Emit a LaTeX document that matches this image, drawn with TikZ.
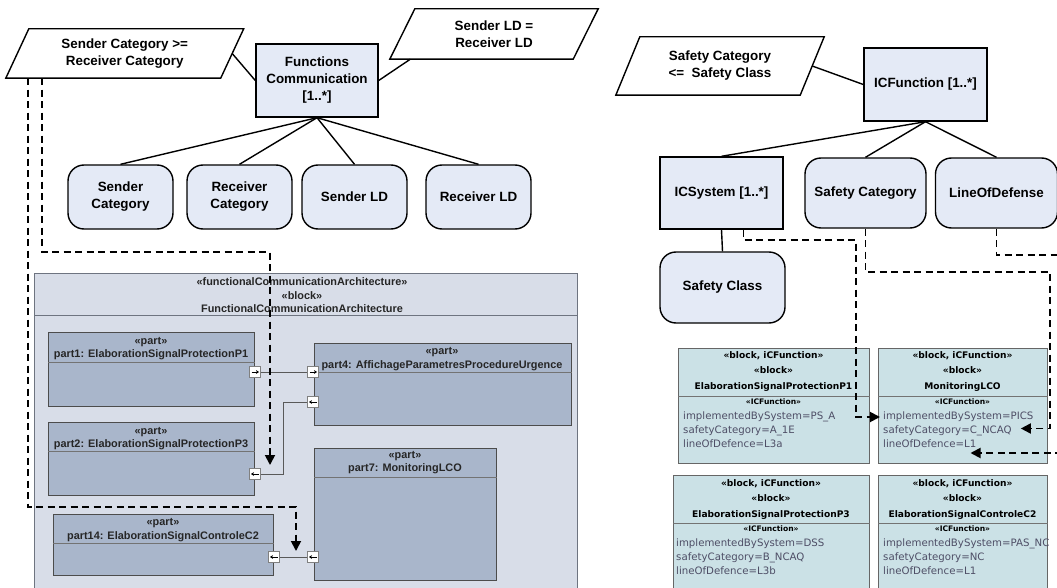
\documentclass[tikz,border=0pt]{standalone}
\usepackage{fontspec}
\setmainfont{Liberation Sans}
\newfontfamily\blkfont{DejaVu Sans}
\usetikzlibrary{arrows.meta,calc}
\definecolor{nodefill}{HTML}{E4EAF6}
\definecolor{contfill}{HTML}{D8DDE8}
\definecolor{partfill}{HTML}{A9B6CB}
\definecolor{blkfill}{HTML}{CBE1E6}
\definecolor{attrcol}{HTML}{4E4E66}
\definecolor{framecol}{HTML}{6E7480}
\newcommand\paraoutline[2]{\draw[paraline] ($(#1.south west)+(-#2,0)$) -- ($(#1.south east)+(-#2,0)$) -- ($(#1.north east)+(#2,0)$) -- ($(#1.north west)+(#2,0)$) -- cycle;}
\begin{document}
\begin{tikzpicture}[x=1pt,y=-1pt,
  topfont/.style={font=\fontsize{13.4}{17}\selectfont\bfseries},
  ent/.style={draw=black,line width=1.4pt,fill=nodefill,topfont,align=center,inner sep=0pt},
  boxn/.style={ent},
  roundn/.style={ent,rounded corners=16pt},
  parabody/.style={topfont,align=center,inner sep=0pt},
  paraline/.style={draw=black,line width=1.4pt,line join=miter},
  link/.style={line width=1.4pt},
  trace/.style={line width=1.8pt,dash pattern=on 7pt off 4.5pt,-{Triangle[length=10pt,width=10pt]}},
  tracefree/.style={line width=1.8pt,dash pattern=on 7pt off 4.5pt},
  cont/.style={draw=framecol,line width=0.8pt,fill=contfill,inner sep=0pt,anchor=north west},
  partn/.style={draw=black!70,line width=0.8pt,fill=partfill,inner sep=0pt,anchor=north west},
  parttxt/.style={font=\fontsize{10.9}{13.5}\selectfont\bfseries,align=center,inner sep=0pt,text=black!85},
  port/.style={draw=black!50,fill=white,line width=0.6pt,minimum size=11pt,inner sep=0pt},
  portlink/.style={draw=black!65,line width=0.9pt},
  glyph/.style={line width=0.8pt,-{Stealth[length=3pt,width=3.8pt]}},
  blk/.style={draw=black!60,line width=0.8pt,fill=blkfill,inner sep=0pt,anchor=north west},
  blkhead/.style={font=\blkfont\fontsize{9.1}{15.5}\selectfont\bfseries,align=center,inner sep=0pt},
  stereo/.style={font=\blkfont\fontsize{7.6}{9}\selectfont\bfseries,inner sep=0pt},
  attr/.style={font=\blkfont\fontsize{10.2}{13}\selectfont,text=attrcol,inner sep=0pt,anchor=west},
  sep/.style={draw=black!55,line width=0.7pt},
]
\useasboundingbox (0,0) rectangle (1057,588);
\clip (0,0) rectangle (1057,588);

% ---------------- left tree ----------------
\node[parabody,minimum width=214.5pt,minimum height=49pt] (scp) at (124.75,53.5) {Sender Category >=\\Receiver Category};
\paraoutline{scp}{11.5}
\node[parabody,minimum width=183pt,minimum height=50pt] (ldp) at (494,34) {Sender LD =\\Receiver LD};
\paraoutline{ldp}{12.5}
\node[boxn,minimum width=122pt,minimum height=73pt] (fc) at (317,80.5) {Functions\\Communication\\{}[1..*]};
\node[roundn,minimum width=105pt,minimum height=64pt] (sc) at (120.5,197) {Sender\\Category};
\node[roundn,minimum width=105pt,minimum height=64pt] (rc) at (239.5,197) {Receiver\\Category};
\node[roundn,minimum width=105pt,minimum height=64pt] (sld) at (354.5,197) {Sender LD};
\node[roundn,minimum width=105pt,minimum height=64pt] (rld) at (478.5,197) {Receiver LD};
\draw[link] (scp.east) -- (fc.west);
\draw[link] (fc.east) -- ($(ldp.south west)+(8,0)$);
\foreach \t in {sc,rc,sld,rld} \draw[link] (fc.south) -- (\t.north);

% ---------------- right tree ----------------
\node[parabody,minimum width=184pt,minimum height=58pt] (sfp) at (720,66) {Safety Category\\<=~~Safety Class};
\paraoutline{sfp}{12}
\node[boxn,minimum width=123pt,minimum height=73pt] (icf) at (925.5,84.5) {ICFunction [1..*]};
\node[boxn,minimum width=123pt,minimum height=72pt] (ics) at (721.5,193) {ICSystem [1..*]};
\node[roundn,minimum width=121pt,minimum height=70pt] (scat) at (865.5,193) {Safety Category};
\node[roundn,minimum width=122pt,minimum height=70pt] (lod) at (996.5,193) {LineOfDefense};
\node[roundn,minimum width=125pt,minimum height=71pt] (sfc) at (722.5,287.5) {Safety Class};
\draw[link] (sfp.east) -- (icf.west);
\foreach \t in {ics,scat,lod} \draw[link] (icf.south) -- (\t.north);
\draw[link] (ics.south) -- (sfc.north);

% ---------------- container ----------------
\node[cont,minimum width=543pt,minimum height=316pt] (cont) at (34,273) {};
\draw[sep,draw=framecol] ($(cont.north west)+(0,42)$) -- ($(cont.north east)+(0,42)$);
\node[font=\fontsize{10.9}{13.5}\selectfont\bfseries,align=center,inner sep=0pt,text=black!85] (conttxt) at (302,295.5)
  {«functionalCommunicationArchitecture»\\«block»\\FunctionalCommunicationArchitecture};

\node[partn,minimum width=206pt,minimum height=74pt] (p1) at (48,332) {};
\node[partn,minimum width=206pt,minimum height=73pt] (p2) at (48,422) {};
\node[partn,minimum width=220pt,minimum height=61pt] (p14) at (53,514) {};
\node[partn,minimum width=257pt,minimum height=82pt] (p4) at (314,343) {};
\node[partn,minimum width=182pt,minimum height=132pt] (p7) at (314,448) {};
\draw[sep] ($(p1.north west)+(0,30)$) -- ($(p1.north east)+(0,30)$);
\draw[sep] ($(p2.north west)+(0,29)$) -- ($(p2.north east)+(0,29)$);
\draw[sep] ($(p14.north west)+(0,29)$) -- ($(p14.north east)+(0,29)$);
\draw[sep] ($(p4.north west)+(0,29)$) -- ($(p4.north east)+(0,29)$);
\draw[sep] ($(p7.north west)+(0,29)$) -- ($(p7.north east)+(0,29)$);
\node[parttxt] (p1t) at (151,348.5) {«part»\\part1: ElaborationSignalProtectionP1};
\node[parttxt] (p2t) at (151,438.5) {«part»\\part2: ElaborationSignalProtectionP3};
\node[parttxt] (p14t) at (163,530) {«part»\\part14: ElaborationSignalControleC2};
\node[parttxt] (p4t) at (442,359) {«part»\\part4: AffichageParametresProcedureUrgence};
\node[parttxt] (p7t) at (405,462.5) {«part»\\part7: MonitoringLCO};

% ports
\node[port] (pt1) at (255,372) {};
\node[port] (pt4a) at (313,372) {};
\node[port] (pt4b) at (313,402) {};
\node[port] (pt2) at (255,474) {};
\node[port] (pt14) at (274,557) {};
\node[port] (pt7) at (313,557) {};
\foreach \p in {pt1,pt4a} \draw[glyph] ($(\p.center)+(-3.5,0)$) -- ++(7.5,0);
\foreach \p in {pt4b,pt2,pt14,pt7} \draw[glyph] ($(\p.center)+(3.5,0)$) -- ++(-7.5,0);
\draw[portlink] (pt1.east) -- (pt4a.west);
\draw[portlink] (pt4b.west) -- ++(-24,0) |- (pt2.east);
\draw[portlink] (pt7.west) -- (pt14.east);

% ---------------- right blocks ----------------
\node[blk,minimum width=191pt,minimum height=115pt] (b1) at (678,348) {};
\node[blk,minimum width=169pt,minimum height=115pt] (b2) at (878,348) {};
\node[blk,minimum width=196pt,minimum height=125pt] (b3) at (673,475) {};
\node[blk,minimum width=169pt,minimum height=125pt] (b4) at (878,475) {};
\foreach \b in {b1,b2,b3,b4} \draw[sep] ($(\b.north west)+(0,48)$) -- ($(\b.north east)+(0,48)$);

\node[blkhead] (b1h) at (773.5,371.5) {«block, iCFunction»\\«block»\\ElaborationSignalProtectionP1};
\node[blkhead] (b2h) at (962.5,371.5) {«block, iCFunction»\\«block»\\MonitoringLCO};
\node[blkhead] (b3h) at (771,499.5) {«block, iCFunction»\\«block»\\ElaborationSignalProtectionP3};
\node[blkhead] (b4h) at (962.5,499.5) {«block, iCFunction»\\«block»\\ElaborationSignalControleC2};
\node[stereo] (b1s) at (773.5,402) {«ICFunction»};
\node[stereo] (b2s) at (962.5,402) {«ICFunction»};
\node[stereo] (b3s) at (771,529) {«ICFunction»};
\node[stereo] (b4s) at (962.5,529) {«ICFunction»};

\node[attr] (a11) at (683,417) {implementedBySystem=PS\_A};
\node[attr] (a12) at (683,430.5) {safetyCategory=A\_1E};
\node[attr] (a13) at (683,444) {lineOfDefence=L3a};
\node[attr] (a21) at (883,417) {implementedBySystem=PICS};
\node[attr] (a22) at (883,430.5) {safetyCategory=C\_NCAQ};
\node[attr] (a23) at (883,444) {lineOfDefence=L1};
\node[attr] (a31) at (676,544) {implementedBySystem=DSS};
\node[attr] (a32) at (676,557.5) {safetyCategory=B\_NCAQ};
\node[attr] (a33) at (676,571) {lineOfDefence=L3b};
\node[attr] (a41) at (883,544) {implementedBySystem=PAS\_NC};
\node[attr] (a42) at (883,557.5) {safetyCategory=NC};
\node[attr] (a43) at (883,571) {lineOfDefence=L1};

% ---------------- dashed traces ----------------
\coordinate (tipA) at (296,551);
\coordinate (tipB) at (270,465);
\draw[trace] ($(scp.south west)+(10.5,0)$) |- (296,507) -- (tipA);
\draw[trace] ($(scp.south west)+(24.5,0)$) |- (270,252) -- (tipB);

\coordinate (tipD) at ($(a23.east)+(-6,9)$);
\coordinate (offR) at (1062,453);
\draw[trace] ($(ics.south)+(22,0)$) |- (856,240) |- ($(a21.west)+(-3,0)$);
\draw[trace] (scat.south) |- (1050,272) |- ($(a22.east)+(9,-2)$);
\draw[tracefree] (lod.south) |- (1062,255);
\draw[trace] (tipD -| offR) -- (tipD);
\end{tikzpicture}
\end{document}
